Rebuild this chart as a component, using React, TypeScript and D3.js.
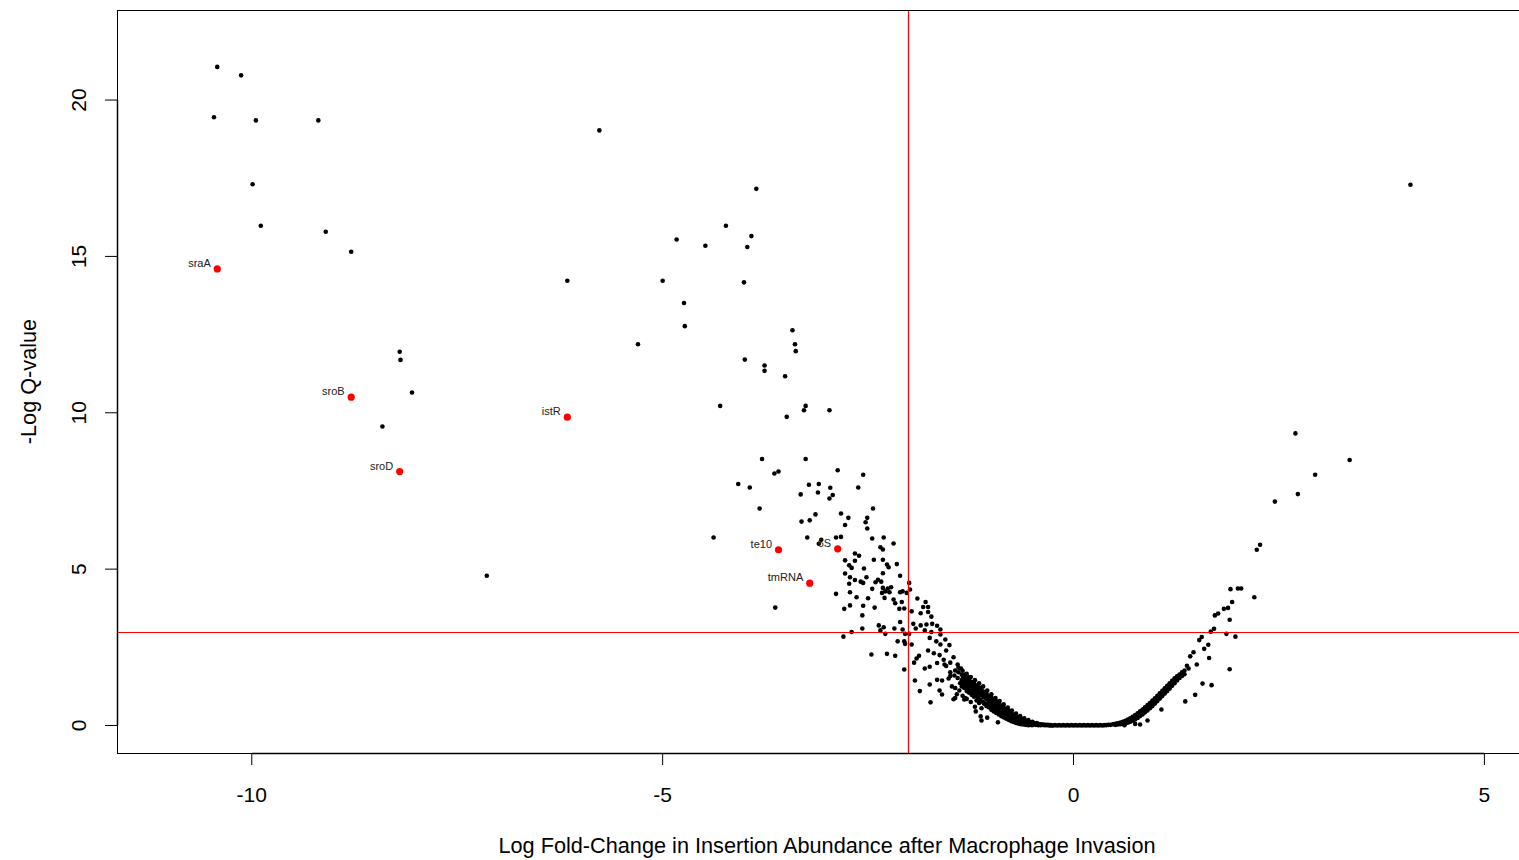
import React from "react";
import * as d3 from "d3";

// ---------- data (log fold change, -log q-value) ----------
const upperLeftPoints: [number, number][] = [
  [-10.42, 21.06], [-10.13, 20.79], [-10.46, 19.45], [-9.95, 19.35], [-9.19, 19.35],
  [-5.77, 19.03], [-9.99, 17.31], [-9.89, 15.98], [-9.10, 15.79], [-8.79, 15.15],
  [-6.16, 14.22], [-8.20, 11.95], [-8.19, 11.69], [-8.05, 10.65], [-8.41, 9.56],
  [-7.14, 4.79],
];

const midPoints: [number, number][] = [
  [-3.86, 17.16], [-4.23, 15.98], [-3.92, 15.65], [-4.83, 15.54], [-4.48, 15.34],
  [-3.97, 15.30], [-5.00, 14.22], [-4.01, 14.17], [-4.74, 13.51], [-4.73, 12.77],
  [-5.30, 12.19], [-3.42, 12.64], [-3.39, 12.19], [-3.38, 11.97], [-4.00, 11.70],
  [-3.76, 11.51], [-3.76, 11.34], [-3.51, 11.17],
  [-4.30, 10.22], [-3.26, 10.22], [-3.28, 10.08], [-2.97, 10.08], [-3.49, 9.87],
  [-3.79, 8.52], [-3.26, 8.52], [-2.87, 8.16], [-2.56, 8.02], [-3.64, 8.06],
  [-3.59, 8.12], [-4.08, 7.72], [-3.94, 7.61], [-3.22, 7.70], [-3.10, 7.72],
  [-2.96, 7.60], [-2.62, 7.61], [-3.32, 7.39], [-3.11, 7.45], [-2.93, 7.37],
  [-2.97, 7.26], [-3.82, 6.94], [-2.44, 6.94], [-3.14, 6.75], [-2.83, 6.78],
  [-2.74, 6.64], [-2.51, 6.64], [-3.21, 6.56], [-3.31, 6.52], [-2.53, 6.50],
  [-2.78, 6.41], [-2.51, 6.30], [-4.38, 6.01], [-3.24, 6.01], [-3.07, 5.94],
  [-3.10, 5.81], [-2.89, 6.01], [-2.83, 6.03], [-2.45, 5.98], [-2.31, 6.01],
  [-2.19, 5.82], [-2.35, 5.70], [-2.32, 5.63], [-3.63, 3.77],
];

const clusterPoints: [number, number][] = [
  [-2.66, 5.50], [-2.61, 5.43], [-2.78, 5.28], [-2.66, 5.27], [-2.43, 5.30],
  [-2.32, 5.30], [-2.27, 5.15], [-2.15, 5.16], [-2.73, 5.12], [-2.70, 5.04],
  [-2.55, 5.02], [-2.25, 5.06], [-2.78, 4.86], [-2.32, 4.87], [-2.11, 4.79],
  [-2.72, 4.74], [-2.66, 4.65], [-2.59, 4.60], [-2.56, 4.56], [-2.52, 4.74],
  [-2.38, 4.66], [-2.34, 4.60], [-2.41, 4.58], [-2.73, 4.53], [-2.45, 4.37],
  [-2.32, 4.40], [-2.26, 4.38], [-2.22, 4.42], [-2.29, 4.29], [-2.24, 4.26],
  [-2.33, 4.24], [-2.11, 4.26], [-2.08, 4.29], [-2.00, 4.56], [-1.99, 4.35],
  [-2.89, 4.21], [-2.72, 4.26], [-2.64, 4.10], [-2.50, 4.07],
  [-2.30, 4.08], [-2.19, 4.03], [-2.03, 4.24], [-2.17, 3.91], [-2.09, 3.95],
  [-1.90, 4.06], [-1.80, 3.95], [-2.72, 3.84], [-2.79, 3.73], [-2.56, 3.83],
  [-2.42, 3.77], [-2.12, 3.73], [-2.06, 3.74], [-1.83, 3.79], [-1.77, 3.79],
  [-2.57, 3.52], [-1.97, 3.65], [-1.86, 3.59], [-1.77, 3.63], [-1.73, 3.48],
  [-2.11, 3.31], [-1.95, 3.25], [-1.86, 3.20], [-1.79, 3.23], [-1.72, 3.25],
  [-1.66, 3.19], [-1.62, 3.07], [-2.37, 3.20], [-2.31, 3.14], [-2.35, 3.04],
  [-2.29, 2.93], [-2.57, 3.10], [-2.70, 2.99], [-2.80, 2.84], [-2.18, 3.10],
  [-2.08, 3.07], [-2.05, 2.93], [-2.00, 2.93], [-1.92, 3.10], [-1.81, 3.04],
  [-1.73, 2.99], [-1.62, 2.91], [-1.56, 2.75], [-1.67, 2.69], [-1.75, 2.80],
  [-2.06, 2.69], [-2.14, 2.69], [-1.97, 2.59], [-2.05, 2.61], [-1.62, 2.59],
  [-1.51, 2.57], [-1.55, 2.40], [-1.46, 2.18], [-1.63, 2.25], [-1.70, 2.31],
  [-1.77, 2.40], [-1.88, 2.23], [-1.91, 2.14], [-1.94, 2.01], [-1.81, 1.82],
  [-1.75, 1.88], [-1.66, 2.00], [-1.57, 1.95], [-1.50, 2.01], [-1.41, 1.95],
  [-1.37, 1.82], [-1.44, 1.76], [-1.32, 1.63], [-1.41, 1.52], [-1.50, 1.58],
  [-1.60, 1.44], [-1.66, 1.46], [-1.75, 1.31], [-1.87, 1.10], [-1.93, 1.44],
  [-2.46, 2.27], [-2.27, 2.29], [-2.17, 2.23], [-2.06, 1.79], [-1.74, 0.74],
  [-1.63, 1.12], [-1.60, 0.99], [-1.44, 1.20], [-1.39, 1.12], [-1.32, 0.88],
  [-1.44, 0.88], [-1.29, 1.31], [-1.27, 1.54], [-1.12, 0.16], [-1.33, 0.83],
  [-1.46, 0.84], [-1.50, 1.70], [-1.45, 1.60], [-1.40, 1.70], [-1.38, 1.35],
  [-1.42, 1.00], [-1.48, 1.25], [-1.55, 1.90], [-1.52, 1.50], [-1.58, 2.10],
  [-1.35, 0.95], [-1.30, 0.85], [-1.13, 0.29], [-1.19, 0.45], [-1.05, 0.25],
  [-0.92, 0.10], [-1.20, 0.60], [-1.25, 0.75],
];

const leftBandPoints: [number, number][] = [
  [-1.36, 1.62], [-1.36, 1.45], [-1.36, 1.25], [-1.33, 1.55], [-1.33, 1.40], [-1.33, 1.20],
  [-1.30, 1.50], [-1.30, 1.33], [-1.30, 1.10], [-1.27, 1.45], [-1.27, 1.28], [-1.27, 1.05],
  [-1.24, 1.40], [-1.24, 1.20], [-1.24, 0.98], [-1.21, 1.33], [-1.21, 1.15], [-1.21, 0.92],
  [-1.18, 1.28], [-1.18, 1.08], [-1.18, 0.80], [-1.15, 1.22], [-1.15, 1.02], [-1.15, 0.72],
  [-1.12, 1.15], [-1.12, 0.96], [-1.12, 0.55], [-1.09, 1.08], [-1.09, 0.90], [-1.09, 0.70],
  [-1.06, 1.02], [-1.06, 0.84], [-1.06, 0.62], [-1.03, 0.95], [-1.03, 0.78], [-1.03, 0.58],
  [-1.00, 0.90], [-1.00, 0.72], [-1.00, 0.50], [-0.97, 0.83], [-0.97, 0.66], [-0.97, 0.45],
  [-0.94, 0.77], [-0.94, 0.60], [-0.94, 0.40], [-0.91, 0.70], [-0.91, 0.54], [-0.91, 0.35],
  [-0.88, 0.64], [-0.88, 0.48], [-0.88, 0.30], [-0.85, 0.58], [-0.85, 0.42], [-0.85, 0.26],
  [-0.82, 0.52], [-0.82, 0.37], [-0.82, 0.22], [-0.79, 0.46], [-0.79, 0.32], [-0.79, 0.18],
  [-0.76, 0.40], [-0.76, 0.27], [-0.76, 0.14], [-0.73, 0.35], [-0.73, 0.23], [-0.73, 0.11],
  [-0.70, 0.30], [-0.70, 0.19], [-0.70, 0.08], [-0.67, 0.26], [-0.67, 0.15], [-0.67, 0.06],
  [-0.64, 0.22], [-0.64, 0.12], [-0.64, 0.04], [-0.61, 0.18], [-0.61, 0.09], [-0.61, 0.03],
  [-0.58, 0.15], [-0.58, 0.07], [-0.58, 0.02], [-0.55, 0.12], [-0.55, 0.05], [-0.55, 0.01],
  [-0.52, 0.10], [-0.52, 0.04], [-0.49, 0.08], [-0.49, 0.03], [-0.46, 0.06], [-0.46, 0.02],
  [-0.43, 0.05], [-0.43, 0.01], [-0.40, 0.04], [-0.40, 0.01], [-0.37, 0.03], [-0.34, 0.02],
  [-0.31, 0.02], [-0.28, 0.01],
];

const leftBandFillPoints: [number, number][] = [
  [-1.345, 1.52], [-1.345, 1.33], [-1.315, 1.47], [-1.315, 1.27], [-1.285, 1.40], [-1.285, 1.18],
  [-1.255, 1.35], [-1.255, 1.10], [-1.225, 1.28], [-1.225, 1.05], [-1.195, 1.22], [-1.195, 0.97],
  [-1.165, 1.16], [-1.165, 0.90], [-1.135, 1.10], [-1.135, 0.82], [-1.105, 1.03], [-1.105, 0.76],
  [-1.075, 0.97], [-1.075, 0.70], [-1.045, 0.90], [-1.045, 0.66], [-1.015, 0.84], [-1.015, 0.60],
  [-0.985, 0.78], [-0.985, 0.56], [-0.955, 0.72], [-0.955, 0.50], [-0.925, 0.66], [-0.925, 0.44],
  [-0.895, 0.60], [-0.895, 0.40], [-0.865, 0.54], [-0.865, 0.34], [-0.835, 0.48], [-0.835, 0.30],
  [-0.805, 0.43], [-0.805, 0.27], [-0.775, 0.38], [-0.775, 0.22], [-0.745, 0.33], [-0.745, 0.18],
  [-0.715, 0.28], [-0.715, 0.14], [-0.685, 0.23], [-0.685, 0.11], [-0.655, 0.20], [-0.655, 0.09],
  [-0.625, 0.16], [-0.625, 0.06], [-0.595, 0.13], [-0.595, 0.05], [-0.565, 0.10], [-0.565, 0.03],
  [-0.535, 0.08], [-0.535, 0.02], [-0.505, 0.06], [-0.505, 0.01], [-0.475, 0.05], [-0.445, 0.04],
  [-0.415, 0.03], [-0.385, 0.02], [-0.355, 0.01], [-0.325, 0.01], [-0.295, 0.0], [-0.265, 0.0],
  [-1.40, 1.85], [-1.35, 1.75], [-1.30, 1.65], [-1.25, 1.55], [-1.20, 1.45], [-1.15, 1.35],
  [-1.10, 1.25], [-1.05, 1.12], [-1.00, 1.00], [-0.95, 0.88], [-0.90, 0.78], [-0.85, 0.68],
  [-0.80, 0.57], [-0.75, 0.48], [-0.70, 0.38], [-0.65, 0.30], [-0.60, 0.23], [-0.55, 0.17],
  [-0.50, 0.12], [-0.45, 0.08],
];

const flatPoints: [number, number][] = [
  [-0.25, 0.0], [-0.20, 0.0], [-0.15, 0.0], [-0.10, 0.0], [-0.05, 0.0], [0.0, 0.0],
  [0.05, 0.0], [0.10, 0.0], [0.15, 0.0], [0.20, 0.0], [0.25, 0.0], [0.30, 0.0],
  [0.35, 0.0], [0.40, 0.01], [0.45, 0.02],
  [-0.225, 0.01], [-0.175, 0.01], [-0.125, 0.01], [-0.075, 0.01], [-0.025, 0.01], [0.025, 0.01],
  [0.075, 0.01], [0.125, 0.01], [0.175, 0.01], [0.225, 0.01], [0.275, 0.01], [0.325, 0.01],
  [0.375, 0.01], [0.425, 0.02],
];

const rightBandPoints: [number, number][] = [
  [0.48, 0.04], [0.51, 0.05], [0.51, 0.02], [0.54, 0.07], [0.54, 0.03], [0.57, 0.09], [0.57, 0.04],
  [0.60, 0.12], [0.60, 0.05], [0.63, 0.15], [0.63, 0.07], [0.66, 0.19], [0.66, 0.09],
  [0.69, 0.23], [0.69, 0.12], [0.72, 0.28], [0.72, 0.15], [0.75, 0.33], [0.75, 0.19],
  [0.78, 0.39], [0.78, 0.24], [0.81, 0.45], [0.81, 0.30], [0.84, 0.51], [0.84, 0.35],
  [0.87, 0.58], [0.87, 0.42], [0.90, 0.65], [0.90, 0.48], [0.93, 0.72], [0.93, 0.55],
  [0.96, 0.80], [0.96, 0.62], [0.99, 0.87], [0.99, 0.70], [1.02, 0.95], [1.02, 0.78],
  [1.05, 1.03], [1.05, 0.86], [1.08, 1.11], [1.08, 0.94], [1.11, 1.19], [1.11, 1.02],
  [1.14, 1.27], [1.14, 1.10], [1.17, 1.35], [1.17, 1.18], [1.20, 1.43], [1.20, 1.27],
  [1.23, 1.51], [1.23, 1.35], [1.26, 1.57], [1.26, 1.44], [1.29, 1.63], [1.29, 1.52],
  [1.32, 1.70], [1.32, 1.58], [1.35, 1.76], [1.35, 1.64],
  [0.81, 0.03], [0.90, 0.16], [1.07, 0.51], [0.62, 0.01], [0.75, 0.05],
  [0.495, 0.04], [0.525, 0.05], [0.555, 0.06], [0.585, 0.08], [0.615, 0.10], [0.645, 0.12],
  [0.675, 0.16], [0.705, 0.19], [0.735, 0.23], [0.765, 0.28], [0.795, 0.34], [0.825, 0.40],
  [0.855, 0.46], [0.885, 0.53], [0.915, 0.60], [0.945, 0.67], [0.975, 0.75], [1.005, 0.83],
  [1.035, 0.91], [1.065, 0.99], [1.095, 1.07], [1.125, 1.15], [1.155, 1.23], [1.185, 1.31],
  [1.215, 1.39], [1.245, 1.47], [1.275, 1.54], [1.305, 1.61], [1.335, 1.67],
];

const rightPoints: [number, number][] = [
  [1.91, 4.36], [2.00, 4.38], [2.04, 4.38], [1.93, 3.95], [1.88, 3.76], [1.83, 3.73],
  [1.76, 3.58], [1.72, 3.52], [1.90, 3.38], [1.71, 3.09], [1.67, 3.00], [1.86, 2.93],
  [1.97, 2.84], [1.56, 2.83], [1.53, 2.73], [1.64, 2.58], [1.59, 2.45], [1.46, 2.34],
  [1.42, 2.21], [1.65, 2.16], [1.50, 1.95], [1.38, 1.91], [1.90, 1.80], [1.57, 1.34],
  [1.68, 1.29], [1.48, 0.98], [1.36, 0.77], [1.40, 1.82],
  [2.70, 9.34], [3.36, 8.49], [2.94, 8.02], [2.73, 7.40], [2.45, 7.16], [2.27, 5.78],
  [2.23, 5.62], [2.20, 4.10], [4.10, 17.29],
];

const highlightGenes = ["sraA", "sroB", "istR", "sroD", "te10", "6S", "tmRNA"];
const highlightLogFC = [-10.42, -8.79, -6.16, -8.20, -3.59, -2.87, -3.21];
const highlightNegLogQ = [14.60, 10.50, 9.86, 8.12, 5.62, 5.65, 4.55];

const xTicks = [-10, -5, 0, 5];
const yTicks = [0, 5, 10, 15, 20];
const foldChangeCutoff = -2;
const qValueCutoff = 3;

const xTitle = "Log Fold-Change in Insertion Abundance after Macrophage Invasion";
const yTitle = "-Log Q-value";

// ---------- layout ----------
const W = 1519;
const H = 860;
const plotLeft = 117;
const plotRight = 1537;
const plotTop = 10;
const plotBottom = 753;
const FONT = "'Liberation Sans', Arial, Helvetica, sans-serif";

export default function App() {
  const x = d3.scaleLinear().domain([-11.64, 5.64]).range([plotLeft, plotRight]);
  const y = d3.scaleLinear().domain([-0.88, 22.88]).range([plotBottom, plotTop]);

  const allPoints = [
    ...upperLeftPoints,
    ...midPoints,
    ...clusterPoints,
    ...leftBandPoints,
    ...leftBandFillPoints,
    ...flatPoints,
    ...rightBandPoints,
    ...rightPoints,
  ];

  const vx = Math.round(x(foldChangeCutoff)) - 0.5;
  const hy = Math.round(y(qValueCutoff)) + 0.5;

  return (
    <svg
      width={W}
      height={H}
      style={{ position: "absolute", left: 0, top: 0, background: "#fff" }}
      fontFamily={FONT}
    >
      <rect x={0} y={0} width={W} height={H} fill="#fff" />
      {/* black points */}
      <g fill="#000">
        {allPoints.map((p, i) => (
          <circle key={i} cx={x(p[0])} cy={y(p[1])} r={2.3} />
        ))}
      </g>
      {/* highlighted genes */}
      <g>
        {highlightGenes.map((g, i) => (
          <g key={g}>
            <circle cx={x(highlightLogFC[i])} cy={y(highlightNegLogQ[i])} r={3.6} fill="#ff0000" />
            <text
              x={x(highlightLogFC[i]) - 6.5}
              y={y(highlightNegLogQ[i]) - 2}
              fontSize={11}
              textAnchor="end"
              fill="#222"
            >
              {g}
            </text>
          </g>
        ))}
      </g>
      {/* cutoff lines */}
      <line x1={vx} x2={vx} y1={plotTop} y2={plotBottom} stroke="#ff0000" strokeWidth={1.2} />
      <line x1={plotLeft} x2={plotRight} y1={hy} y2={hy} stroke="#ff0000" strokeWidth={1.2} />
      {/* box */}
      <rect
        x={plotLeft + 0.5}
        y={plotTop + 0.5}
        width={plotRight - plotLeft}
        height={plotBottom - plotTop}
        fill="none"
        stroke="#000"
        strokeWidth={1}
      />
      {/* x axis */}
      <line x1={x(xTicks[0])} x2={x(xTicks[xTicks.length - 1])} y1={plotBottom + 0.5} y2={plotBottom + 0.5} stroke="#000" strokeWidth={1.5} />
      {xTicks.map((t) => (
        <g key={t}>
          <line x1={x(t)} x2={x(t)} y1={plotBottom} y2={plotBottom + 12} stroke="#000" />
          <text x={x(t)} y={802} fontSize={21} textAnchor="middle" fill="#000">
            {t}
          </text>
        </g>
      ))}
      {/* y axis */}
      <line x1={plotLeft + 0.5} x2={plotLeft + 0.5} y1={y(yTicks[0])} y2={y(yTicks[yTicks.length - 1])} stroke="#000" strokeWidth={1.5} />
      {yTicks.map((t) => (
        <g key={t}>
          <line x1={plotLeft - 12} x2={plotLeft} y1={y(t)} y2={y(t)} stroke="#000" />
          <text
            transform={`translate(86,${y(t)}) rotate(-90)`}
            fontSize={21}
            textAnchor="middle"
            fill="#000"
          >
            {t}
          </text>
        </g>
      ))}
      {/* titles */}
      <text x={(plotLeft + plotRight) / 2} y={853} fontSize={21.7} textAnchor="middle" fill="#000">
        {xTitle}
      </text>
      <text
        transform={`translate(36,${(plotTop + plotBottom) / 2}) rotate(-90)`}
        fontSize={21.7}
        textAnchor="middle"
        fill="#000"
      >
        {yTitle}
      </text>
    </svg>
  );
}
